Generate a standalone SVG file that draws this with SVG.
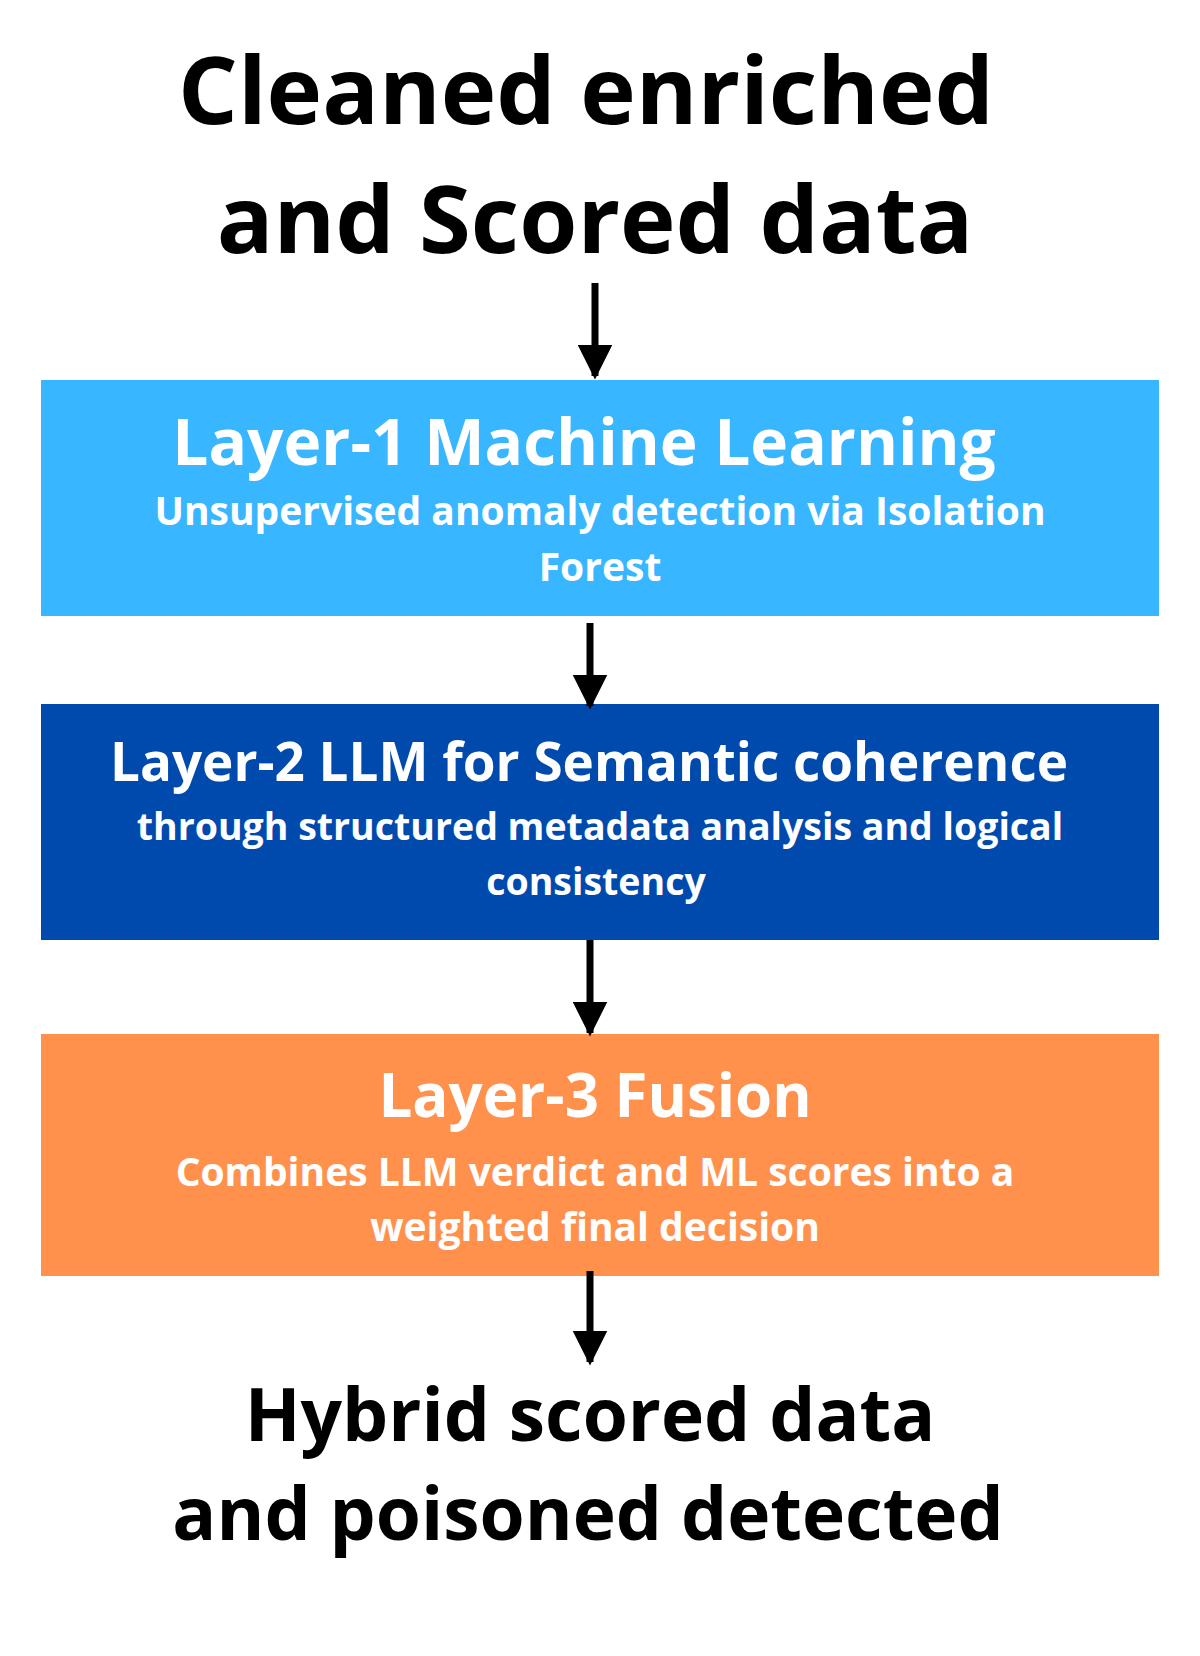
<svg xmlns="http://www.w3.org/2000/svg" width="1200" height="1656" viewBox="0 0 1200 1656">
<style>
text{font-family:"Open Sans","DejaVu Sans",sans-serif;font-weight:bold;text-anchor:middle}
.big{font-size:94px;fill:#000}
.h{font-size:64px;fill:#fff}
.s{font-size:39px;fill:#fff}
.c{stroke:#000;stroke-width:7;fill:none}
</style>
<defs><marker id="ah" viewBox="0 0 10 10" refX="9" refY="5" markerWidth="5" markerHeight="5" markerUnits="strokeWidth" orient="auto"><path d="M0,0L10,5L0,10z" fill="#000"/></marker></defs>
<rect width="1200" height="1656" fill="#fff"/>
<g id="top"><text class="big" x="586" y="124">Cleaned enriched</text><text class="big" x="595" y="253">and Scored data</text></g>
<g id="layer1"><rect x="41" y="380" width="1118" height="236" fill="#38b6ff"/><text class="h" x="584" y="465">Layer-1 Machine Learning</text><text class="s" x="600" y="525">Unsupervised anomaly detection via Isolation</text><text class="s" x="600" y="581">Forest</text></g>
<g id="layer2"><rect x="41" y="704" width="1118" height="236" fill="#004aad"/><text class="h" x="589" y="781" style="font-size:53px">Layer-2 LLM for Semantic coherence</text><text class="s" x="600" y="840" style="font-size:37.5px">through structured metadata analysis and logical</text><text class="s" x="596" y="895" style="font-size:37.5px">consistency</text></g>
<g id="layer3"><rect x="41" y="1034" width="1118" height="242" fill="#ff914d"/><text class="h" x="595" y="1117" style="font-size:60px">Layer-3 Fusion</text><text class="s" x="595" y="1186">Combines LLM verdict and ML scores into a</text><text class="s" x="595" y="1241">weighted final decision</text></g>
<g id="bottom"><text class="big" x="590" y="1441" style="font-size:73px">Hybrid scored data</text><text class="big" x="588" y="1540" style="font-size:73px">and poisoned detected</text></g>
<g id="connectors">
<line class="c" x1="595" y1="283" x2="595" y2="376" marker-end="url(#ah)"/>
<line class="c" x1="590" y1="623" x2="590" y2="706" marker-end="url(#ah)"/>
<line class="c" x1="590" y1="940" x2="590" y2="1033" marker-end="url(#ah)"/>
<line class="c" x1="590" y1="1271" x2="590" y2="1362" marker-end="url(#ah)"/>
</g>
</svg>
